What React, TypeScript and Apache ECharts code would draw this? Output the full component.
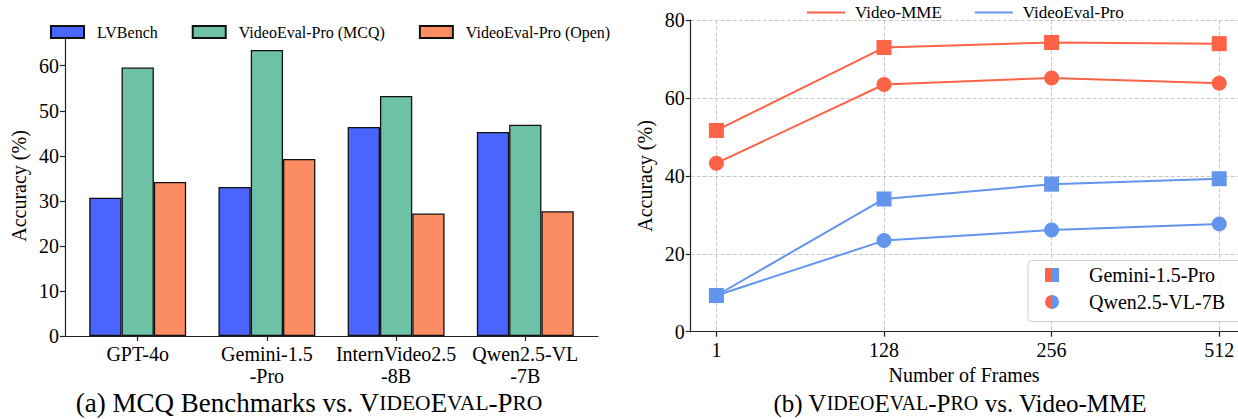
import React, { useEffect, useRef } from 'react';
import * as echarts from 'echarts';

// ---- data: left panel (bar chart) ----
const barCategories = ['GPT-4o', 'Gemini-1.5\n-Pro', 'InternVideo2.5\n-8B', 'Qwen2.5-VL\n-7B'];
const lvbench = [30.7, 33.1, 46.4, 45.3];
const mcq = [59.6, 63.5, 53.3, 46.9];
const openEnded = [34.2, 39.3, 27.2, 27.7];
const barYTicks = [0, 10, 20, 30, 40, 50, 60];

// ---- data: right panel (line chart) ----
const frames = ['1', '128', '256', '512'];
const mmeGemini = [51.7, 73.0, 74.3, 74.0];
const mmeQwen = [43.3, 63.5, 65.2, 63.8];
const evalGemini = [9.3, 34.1, 37.9, 39.3];
const evalQwen = [9.3, 23.4, 26.1, 27.7];

const FONT = "'Liberation Serif', 'Times New Roman', serif";
const AX = '#222';
const RED = '#ff6347';
const BLUE = '#6495ed';
const GRIDC = '#c8c8c8';

export default function App() {
  const ref = useRef<HTMLDivElement>(null);
  useEffect(() => {
    document.body.style.margin = '0';
    const chart = echarts.init(ref.current!, undefined, { renderer: 'svg' });
    const txt = { fontFamily: FONT, color: '#000' };
    const option: any = {
      animation: false,
      textStyle: { fontFamily: FONT },
      grid: [
        { left: 65, top: 36, width: 533, height: 300 },
        { left: 73.1, top: 36, width: 516.8, height: 300 },
        { left: 690.7, top: 20.3, width: 548, height: 311.4 },
        { left: 716.4, top: 20.3, width: 502.8, height: 311.4 },
      ],
      legend: [
        {
          data: ['LVBench', 'VideoEval-Pro (MCQ)', 'VideoEval-Pro (Open)'],
          left: 50, top: 24, icon: 'rect', itemWidth: 33, itemHeight: 12, itemGap: 34,
          padding: 0, selectedMode: false,
          textStyle: { fontFamily: FONT, color: '#000', fontSize: 16, lineHeight: 16, padding: [0, 0, 0, 8] },
        },
        {
          data: ['Video-MME', 'VideoEval-Pro'],
          left: 807, top: 4, icon: 'rect', itemWidth: 38, itemHeight: 2, itemGap: 33,
          padding: 0, selectedMode: false,
          textStyle: { fontFamily: FONT, color: '#000', fontSize: 17, lineHeight: 16, padding: [0, 0, 0, 5] },
        },
      ],
      xAxis: [
        {
          gridIndex: 0, type: 'value', min: 0, max: 1,
          axisLine: { show: true, lineStyle: { color: AX, width: 1.2 } },
          axisTick: { show: false }, axisLabel: { show: false }, splitLine: { show: false },
        },
        {
          gridIndex: 1, type: 'category', data: barCategories,
          axisLine: { show: false },
          axisTick: { show: true, alignWithLabel: true, length: 5, lineStyle: { color: AX, width: 1.2 } },
          axisLabel: { ...txt, fontSize: 20, lineHeight: 22, margin: 7, interval: 0 },
          splitLine: { show: false },
        },
        {
          gridIndex: 2, type: 'value', min: 0, max: 1,
          axisLine: { show: true, lineStyle: { color: AX, width: 1.2 } },
          axisTick: { show: false }, axisLabel: { show: false }, splitLine: { show: false },
        },
        {
          gridIndex: 3, type: 'category', data: frames, boundaryGap: false,
          axisLine: { show: false },
          axisTick: { show: true, length: 5, interval: 0, lineStyle: { color: AX, width: 1.2 } },
          axisLabel: { ...txt, fontSize: 20, margin: 8, interval: 0 },
          splitLine: { show: true, interval: 0, lineStyle: { color: GRIDC, type: [4, 2], width: 1 } },
        },
      ],
      yAxis: [
        {
          gridIndex: 0, type: 'value', min: 0, max: 66.6,
          axisLine: { show: true, lineStyle: { color: AX, width: 1.2 } },
          axisTick: { show: true, customValues: barYTicks, length: 5, lineStyle: { color: AX, width: 1.2 } },
          axisLabel: { ...txt, fontSize: 20, margin: 6, customValues: barYTicks },
          splitLine: { show: false },
        },
        { gridIndex: 1, type: 'value', min: 0, max: 66.6, show: false, splitLine: { show: false } },
        {
          gridIndex: 2, type: 'value', min: 0, max: 80, interval: 20,
          axisLine: { show: true, lineStyle: { color: AX, width: 1.2 } },
          axisTick: { show: true, length: 5, lineStyle: { color: AX, width: 1.2 } },
          axisLabel: { ...txt, fontSize: 20, margin: 6 },
          splitLine: { show: true, lineStyle: { color: GRIDC, type: [4, 2], width: 1 } },
        },
        { gridIndex: 3, type: 'value', min: 0, max: 80, show: false, splitLine: { show: false } },
      ],
      series: [
        {
          name: 'LVBench', type: 'bar', xAxisIndex: 1, yAxisIndex: 1, data: lvbench,
          barWidth: 32.3, barGap: '0%',
          itemStyle: { color: '#4a65ff', borderColor: '#111', borderWidth: 1.3 },
        },
        {
          name: 'VideoEval-Pro (MCQ)', type: 'bar', xAxisIndex: 1, yAxisIndex: 1, data: mcq,
          barWidth: 32.3, barGap: '0%',
          itemStyle: { color: '#6cc1a6', borderColor: '#111', borderWidth: 1.3 },
        },
        {
          name: 'VideoEval-Pro (Open)', type: 'bar', xAxisIndex: 1, yAxisIndex: 1, data: openEnded,
          barWidth: 32.3, barGap: '0%',
          itemStyle: { color: '#fc8d62', borderColor: '#111', borderWidth: 1.3 },
        },
        {
          name: 'Video-MME', type: 'line', xAxisIndex: 3, yAxisIndex: 3, data: mmeQwen,
          symbol: 'circle', symbolSize: 15, lineStyle: { color: RED, width: 2 }, itemStyle: { color: RED },
        },
        {
          name: 'Video-MME', type: 'line', xAxisIndex: 3, yAxisIndex: 3, data: mmeGemini,
          symbol: 'rect', symbolSize: 15, lineStyle: { color: RED, width: 2 }, itemStyle: { color: RED },
        },
        {
          name: 'VideoEval-Pro', type: 'line', xAxisIndex: 3, yAxisIndex: 3, data: evalQwen,
          symbol: 'circle', symbolSize: 15, lineStyle: { color: BLUE, width: 2 }, itemStyle: { color: BLUE },
        },
        {
          name: 'VideoEval-Pro', type: 'line', xAxisIndex: 3, yAxisIndex: 3, data: evalGemini,
          symbol: 'rect', symbolSize: 15, lineStyle: { color: BLUE, width: 2 }, itemStyle: { color: BLUE },
        },
      ],
      graphic: [
        // axis titles
        {
          type: 'text', x: 19, y: 186, rotation: Math.PI / 2,
          style: { text: 'Accuracy (%)', font: `20px ${FONT}`, fill: '#000', align: 'center', verticalAlign: 'middle' },
        },
        {
          type: 'text', x: 645, y: 176, rotation: Math.PI / 2,
          style: { text: 'Accuracy (%)', font: `20px ${FONT}`, fill: '#000', align: 'center', verticalAlign: 'middle' },
        },
        {
          type: 'text', x: 964, y: 375,
          style: { text: 'Number of Frames', font: `20px ${FONT}`, fill: '#000', align: 'center', verticalAlign: 'middle' },
        },
        // inner legend of the right panel
        {
          type: 'rect', z: 10,
          shape: { x: 1028, y: 260.5, width: 220, height: 61, r: 4 },
          style: { fill: 'rgba(255,255,255,0.85)', stroke: '#cfcfcf', lineWidth: 1 },
        },
        { type: 'rect', z: 11, shape: { x: 1045, y: 268, width: 7, height: 14 }, style: { fill: RED } },
        { type: 'rect', z: 11, shape: { x: 1052, y: 268, width: 7, height: 14 }, style: { fill: BLUE } },
        {
          type: 'sector', z: 11,
          shape: { cx: 1052, cy: 302, r: 7, r0: 0, startAngle: Math.PI / 2, endAngle: (3 * Math.PI) / 2 },
          style: { fill: RED },
        },
        {
          type: 'sector', z: 11,
          shape: { cx: 1052, cy: 302, r: 7, r0: 0, startAngle: -Math.PI / 2, endAngle: Math.PI / 2 },
          style: { fill: BLUE },
        },
        {
          type: 'text', z: 11, x: 1089, y: 275,
          style: { text: 'Gemini-1.5-Pro', font: `20px ${FONT}`, fill: '#000', verticalAlign: 'middle' },
        },
        {
          type: 'text', z: 11, x: 1089, y: 302,
          style: { text: 'Qwen2.5-VL-7B', font: `20px ${FONT}`, fill: '#000', verticalAlign: 'middle' },
        },
        // captions
        {
          type: 'text', x: 309, y: 403,
          style: {
            text: '(a) MCQ Benchmarks vs. V{sc|IDEO}E{sc|VAL}-P{sc|RO}',
            font: `27px ${FONT}`, fill: '#000', align: 'center', verticalAlign: 'middle',
            rich: { sc: { fontSize: 21.5, fontFamily: FONT, fill: '#000' } },
          },
        },
        {
          type: 'text', x: 960, y: 403,
          style: {
            text: '(b) V{sc|IDEO}E{sc|VAL}-P{sc|RO} vs. Video-MME',
            font: `25px ${FONT}`, fill: '#000', align: 'center', verticalAlign: 'middle',
            rich: { sc: { fontSize: 20, fontFamily: FONT, fill: '#000' } },
          },
        },
      ],
    };
    chart.setOption(option);
    return () => chart.dispose();
  }, []);
  return <div ref={ref} style={{ width: 1238, height: 419 }} />;
}
